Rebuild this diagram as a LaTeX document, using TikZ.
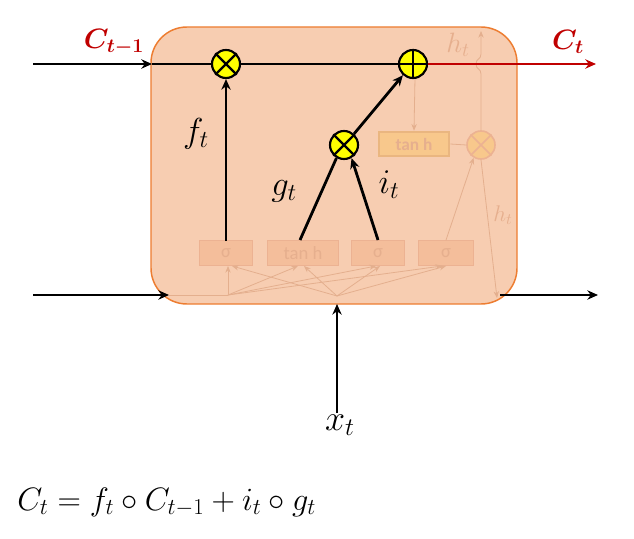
\documentclass[tikz,border=0pt]{standalone}
\usepackage{fix-cm}
\usepackage{amsmath}
\usepackage{bm}
\usepackage{fontspec}
\newfontfamily\calfont{Carlito}
\usetikzlibrary{arrows.meta}
\definecolor{boxfill}{RGB}{247,205,177}
\definecolor{boxdraw}{RGB}{237,125,49}
\definecolor{fadeline}{RGB}{228,175,142}
\definecolor{fadetext}{RGB}{230,175,142}
\definecolor{fadefill}{RGB}{244,190,155}
\definecolor{fadedraw}{RGB}{236,178,146}
\definecolor{tanhfill}{RGB}{248,200,140}
\definecolor{tanhdraw}{RGB}{234,182,128}
\definecolor{cred}{RGB}{192,0,0}
\definecolor{opyellow}{RGB}{255,255,0}
\tikzset{
  op/.style={circle,draw=black,fill=opyellow,line width=1.6pt,minimum size=21pt,inner sep=0pt},
  fadeop/.style={circle,draw=fadedraw,fill=tanhfill,line width=1.2pt,minimum size=21pt,inner sep=0pt},
  gate/.style={draw=fadedraw,fill=fadefill,line width=0.8pt,minimum height=18.5pt,inner sep=0pt,text=fadetext,font=\calfont\fontsize{14}{16}\selectfont},
  mainline/.style={line width=2.1pt,black},
  thinline/.style={line width=1.1pt,black},
  fadearrow/.style={draw=fadeline,line width=0.6pt,-{Stealth[length=5pt,width=4pt]}},
  tip/.style={-{Stealth[length=8pt,width=7pt]}},
  lbl/.style={font=\fontsize{21}{24}\selectfont,inner sep=0pt},
  biglbl/.style={font=\fontsize{26}{30}\selectfont,inner sep=0pt},
}
\begin{document}
\begin{tikzpicture}[x=0.75pt,y=-0.75pt]
\useasboundingbox (0,0) rectangle (634,538);
% cell
\draw[draw=boxdraw,fill=boxfill,line width=1.1pt,rounded corners=27pt] (151,27) rectangle (517,304);
% faded gates
\node[gate,minimum width=40pt] (s1) at (226,253) {σ};
\node[gate,minimum width=53pt] (t1) at (303,253) {tan h};
\node[gate,minimum width=40pt] (s2) at (378,253) {σ};
\node[gate,minimum width=41pt] (s3) at (446,253) {σ};
\node[gate,fill=tanhfill,draw=tanhdraw,line width=1.4pt,minimum width=53pt,font=\calfont\bfseries\fontsize{13}{15}\selectfont] (t2) at (414,144) {tan h};
\node[fadeop] (m3) at (481,145) {};
\draw[fadedraw,line width=1.2pt] (m3.45) -- (m3.225) (m3.135) -- (m3.315);
% faded input fan
\coordinate (hcell) at (169,295);
\coordinate (hin) at (228,295);
\coordinate (xin) at (337,296);
\draw[draw=fadeline,line width=0.6pt] (hcell) -- (hin);
\draw[fadearrow] (hin) -- (228,266);
\draw[fadearrow] (hin) -- (298,266);
\draw[fadearrow] (hin) -- (376,266);
\draw[fadearrow] (hin) -- (442,266);
\draw[fadearrow] (xin) -- (232,266);
\draw[fadearrow] (xin) -- (304,266);
\draw[fadearrow] (xin) -- (380,266);
\draw[fadearrow] (xin) -- (446,266);
% faded output path
\draw[fadearrow] (s3.north) -- (m3.240);
\draw[draw=fadeline,line width=0.6pt] (t2.east) -- (m3.west);
\draw[fadearrow] (415,78) -- (t2.north);
\draw[fadearrow] (m3.north) -- (481,74) .. controls (481,68) and (476,70) .. (476,64) .. controls (476,58) and (481,60) .. (481,54) -- (481,31);
\node[lbl,text=fadetext] (h1) at (458,45) {$h_t$};
\draw[fadearrow] (m3.south) -- (497,298);
\node[lbl,text=fadetext,font=\fontsize{17}{20}\selectfont] (h2) at (503,215) {$h_t$};
% main ops
\node[op] (m1) at (226,64) {};
\draw[line width=1.6pt] (m1.45) -- (m1.225) (m1.135) -- (m1.315);
\node[op] (ad) at (413,64) {};
\draw[line width=1.6pt] (ad.north) -- (ad.south) (ad.west) -- (ad.east);
\node[op] (m2) at (344,145) {};
\draw[line width=1.6pt] (m2.45) -- (m2.225) (m2.135) -- (m2.315);
% cell state line
\coordinate (cstart) at (33,64);
\coordinate (cin) at (152,64);
\coordinate (cend) at (596,64);
\draw[mainline,tip] (cstart) -- (cin);
\draw[mainline] (cin) -- (m1.west);
\draw[mainline] (m1.east) -- (ad.west);
\draw[mainline,cred,tip] (ad.east) -- (cend);
\node[lbl,text=cred] (cprev) at (114,42) {$\bm{C_{t-1}}$};
\node[lbl,text=cred] (cnext) at (568,42) {$\bm{C_t}$};
% internal arrows
\coordinate (fs) at (226,241);
\draw[mainline,tip] (fs) -- (m1.south);
\coordinate (gs) at (300,240);
\draw[mainline] (gs) -- (m2.240);
\coordinate (is) at (378,240);
\draw[mainline,tip] (is) -- (m2.300);
\draw[mainline,tip] (m2.48) -- (ad.228);
\node[biglbl] (fl) at (196,134) {$f_t$};
\node[biglbl] (gl) at (284,191) {$g_t$};
\node[biglbl] (il) at (389,185) {$i_t$};
% hidden line and input
\coordinate (hstart) at (33,295);
\draw[thinline,tip] (hstart) -- (hcell);
\coordinate (hout) at (500,295);
\coordinate (hend) at (598,295);
\draw[thinline,tip] (hout) -- (hend);
\coordinate (xs) at (337,413);
\coordinate (xcell) at (337,304);
\draw[thinline,tip] (xs) -- (xcell);
\node[lbl,font=\fontsize{27}{30}\selectfont] (xl) at (340,425) {$x_t$};
% equation
\node[anchor=base west,inner sep=0pt,font=\fontsize{24.3}{28}\selectfont] (eq) at (17,510) {$C_t = f_t \circ C_{t-1} + i_t \circ g_t$};
\end{tikzpicture}
\end{document}
